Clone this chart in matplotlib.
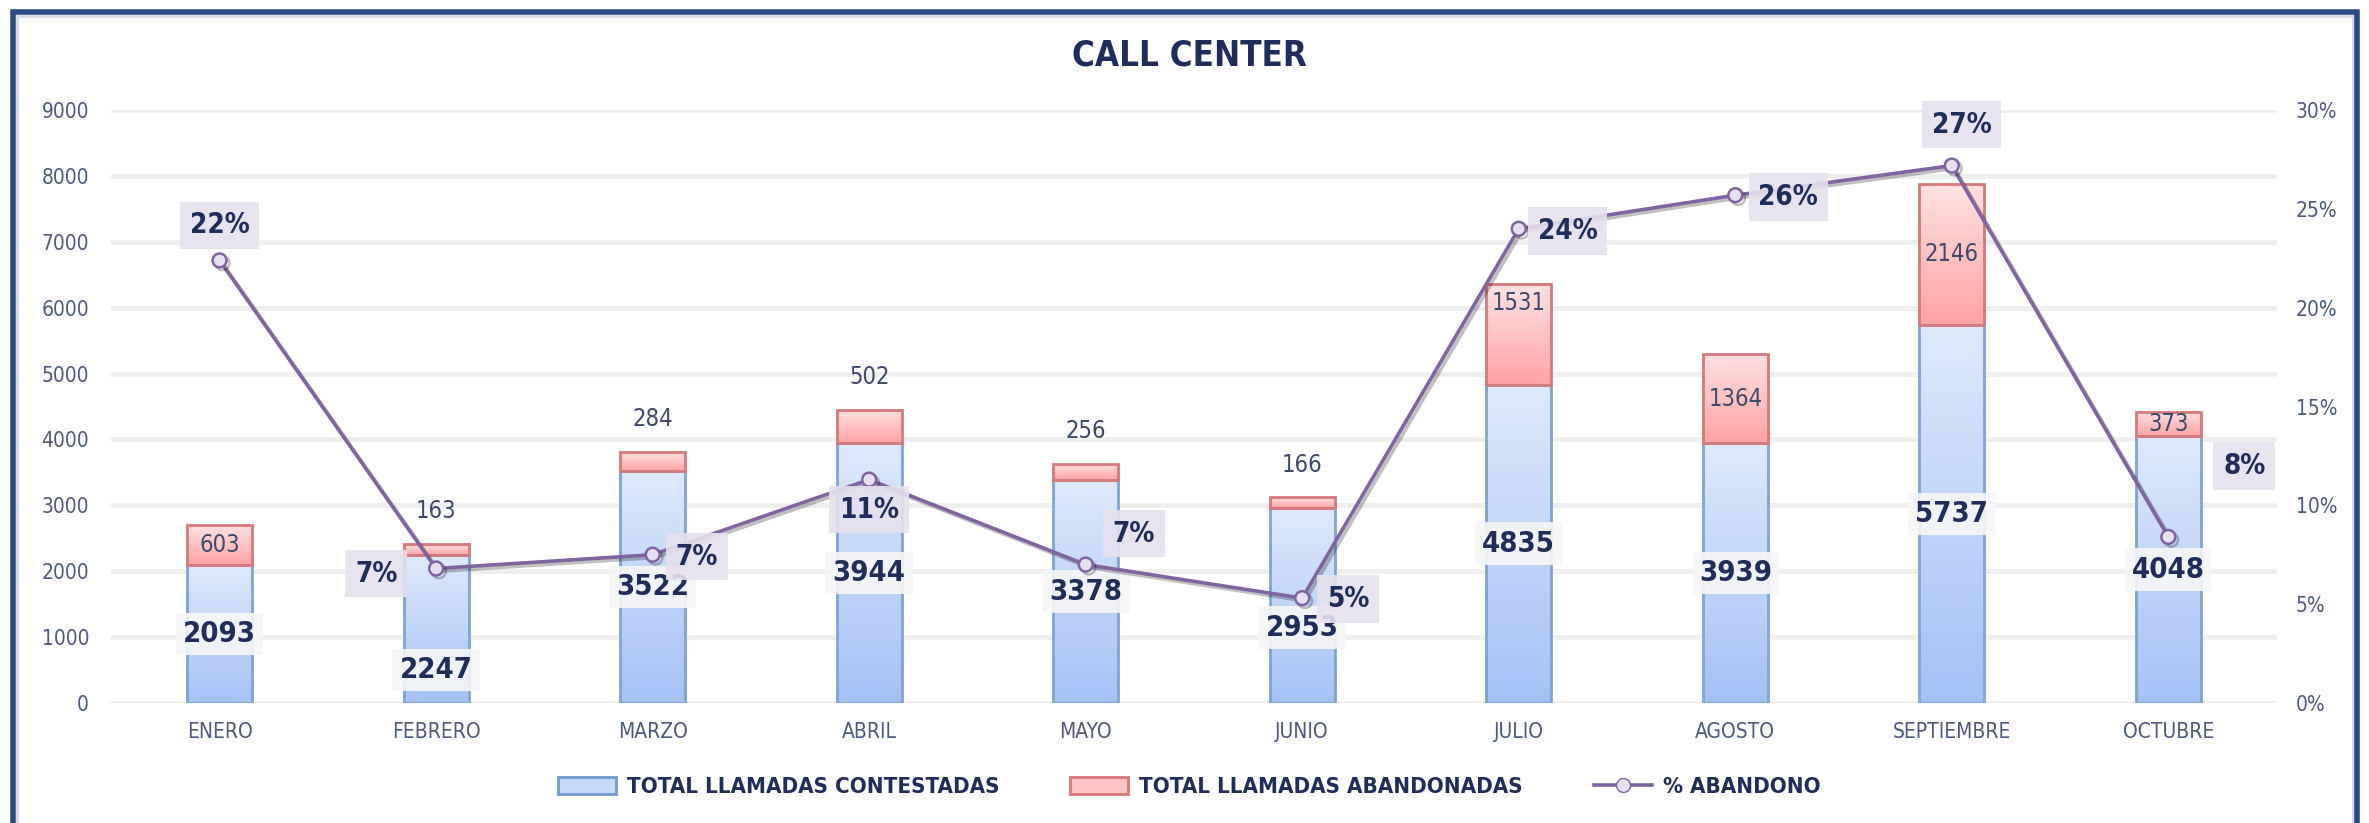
import matplotlib
matplotlib.use("Agg")
import matplotlib.pyplot as plt
import matplotlib.patheffects as pe
import numpy as np
from matplotlib import font_manager as fm
from matplotlib.colors import LinearSegmentedColormap
from matplotlib.lines import Line2D
from matplotlib.patches import Patch, Rectangle

months = ["ENERO", "FEBRERO", "MARZO", "ABRIL", "MAYO", "JUNIO",
          "JULIO", "AGOSTO", "SEPTIEMBRE", "OCTUBRE"]
contestadas = [2093, 2247, 3522, 3944, 3378, 2953, 4835, 3939, 5737, 4048]
abandonadas = [603, 163, 284, 502, 256, 166, 1531, 1364, 2146, 373]
pct_abandono = [22.4, 6.8, 7.5, 11.3, 7.0, 5.3, 24.0, 25.7, 27.2, 8.4]
pct_labels = ["22%", "7%", "7%", "11%", "7%", "5%", "24%", "26%", "27%", "8%"]

# pick a narrow face if one is installed (the original uses Calibri)
_names = {f.name for f in fm.fontManager.ttflist}
if "Liberation Sans Narrow" in _names:
    plt.rcParams["font.family"] = ["Liberation Sans Narrow", "DejaVu Sans"]
else:
    _path = fm.findfont(fm.FontProperties(family="DejaVu Sans", stretch="condensed"))
    plt.rcParams["font.family"] = ["DejaVu Sans"]
    if "Condensed" in _path:
        plt.rcParams["font.stretch"] = "condensed"

NAVY = "#1F2D5C"
AXIS_TXT = "#4A5A80"

# manual label placement (pixel offsets), like the hand-moved Excel labels
pct_offsets = [(0, 35), (-60, -5), (44, -2), (0, -30), (48, 31), (46, -1),
               (49, -2), (53, -2), (10, 41), (76, 71)]
blue_label_y = {1: 500, 5: 1140}
red_above = {1, 2, 3, 4, 5}
red_nudge = {6: 1235}


def _gradient(ax, bars, top, bottom, z=0.9):
    cmap = LinearSegmentedColormap.from_list("g", [bottom, top])
    grad = np.linspace(0, 1, 256).reshape(-1, 1)
    for b in bars:
        x0, y0 = b.get_x(), b.get_y()
        im = ax.imshow(grad, extent=(x0, x0 + b.get_width(), y0, y0 + b.get_height()),
                       origin="lower", cmap=cmap, aspect="auto", zorder=z)
        im.set_clip_path(b)


fig = plt.figure(figsize=(23.69, 8.23), dpi=100)
ax = fig.add_axes([0.047, 0.146, 0.914, 0.720])
x = np.arange(len(months))
w = 0.30

b1 = ax.bar(x, contestadas, w, facecolor="none", edgecolor="#7FA3D6", linewidth=2, zorder=1)
b2 = ax.bar(x, abandonadas, w, bottom=contestadas, facecolor="none",
            edgecolor="#D9787A", linewidth=2, zorder=1)
_gradient(ax, b1, "#DEE9FC", "#A3C2F4")
_gradient(ax, b2, "#FFE2E2", "#FFA3A3")

ax.set_xlim(-0.5, len(months) - 0.5)
ax.set_ylim(0, 9000)
ax.set_yticks(np.arange(0, 9001, 1000))
ax.set_axisbelow(True)
ax.grid(axis="y", color="#EEEEEE", linewidth=3.5)
for s in ax.spines.values():
    s.set_visible(False)
ax.set_xticks(x, months)
ax.tick_params(axis="x", length=0, pad=14, labelsize=15, labelcolor=AXIS_TXT)
ax.tick_params(axis="y", length=0, pad=16, labelsize=15, labelcolor=AXIS_TXT)

for i, (c, a) in enumerate(zip(contestadas, abandonadas)):
    yb = blue_label_y.get(i, c / 2)
    ax.text(i, yb, str(c), ha="center", va="center", fontsize=21, fontweight="bold",
            color=NAVY, zorder=3,
            bbox=dict(boxstyle="square,pad=0.25", fc="#F6F6F6", ec="none", alpha=0.9))
    if i in red_above:
        ax.annotate(str(a), (i, c + a), xytext=(0, 15), textcoords="offset points",
                    ha="center", va="bottom", fontsize=17, color="#3B4A6B", zorder=3)
    else:
        ax.text(i, c + red_nudge.get(i, a / 2), str(a),
                ha="center", va="center", fontsize=17, color="#3B4A6B", zorder=3)

ax2 = ax.twinx()
ax2.plot(x, pct_abandono, color="#8064A2", linewidth=2.6, marker="o", markersize=10,
         markerfacecolor="#E6E0F0", markeredgecolor="#8064A2", markeredgewidth=1.8, zorder=4,
         path_effects=[pe.SimpleLineShadow(offset=(2, -2), alpha=0.25), pe.Normal()])
ax2.set_ylim(0, 30)
ax2.set_yticks(np.arange(0, 31, 5))
ax2.set_yticklabels([f"{v}%" for v in range(0, 31, 5)])
ax2.tick_params(axis="y", length=0, pad=14, labelsize=15, labelcolor=AXIS_TXT)
for s in ax2.spines.values():
    s.set_visible(False)

for i, (p, lab) in enumerate(zip(pct_abandono, pct_labels)):
    dx, dy = pct_offsets[i]
    ax2.annotate(lab, (i, p), xytext=(dx * 0.72, dy * 0.72), textcoords="offset points",
                 ha="center", va="center", fontsize=20, fontweight="bold", color=NAVY, zorder=5,
                 bbox=dict(boxstyle="square,pad=0.35", fc="#E6E1EE", ec="none", alpha=0.9))

fig.text(0.502, 1 - 55 / 823, "CALL CENTER", ha="center", va="center",
         fontsize=25, fontweight="bold", color=NAVY)

handles = [
    Patch(facecolor="#C5D9F8", edgecolor="#6F9BD1", linewidth=2),
    Patch(facecolor="#FFC4C4", edgecolor="#D9787A", linewidth=2),
    Line2D([], [], color="#8064A2", linewidth=2.6, marker="o", markersize=10,
           markerfacecolor="#E6E0F0", markeredgecolor="#8064A2"),
]
fig.legend(handles, ["TOTAL LLAMADAS CONTESTADAS", "TOTAL LLAMADAS ABANDONADAS", "% ABANDONO"],
           loc="center", bbox_to_anchor=(0.502, 1 - 787 / 823), ncol=3, frameon=False,
           prop=dict(size=16, weight="bold"), labelcolor=NAVY, handlelength=2.6,
           handleheight=0.8, handletextpad=0.5, columnspacing=3.2)

# outer frame: dark navy line with a pale inner rim
fig.add_artist(Rectangle((17 / 2369, -0.05), (2353 - 17) / 2369, 1.05 - 16 / 823,
                         transform=fig.transFigure, fill=False, linewidth=2,
                         edgecolor="#D3DAE8", zorder=10))
fig.add_artist(Rectangle((13 / 2369, -0.05), (2357 - 13) / 2369, 1.05 - 12 / 823,
                         transform=fig.transFigure, fill=False, linewidth=4,
                         edgecolor="#2B4A84", zorder=10))

fig.savefig("out.png", dpi=100)
